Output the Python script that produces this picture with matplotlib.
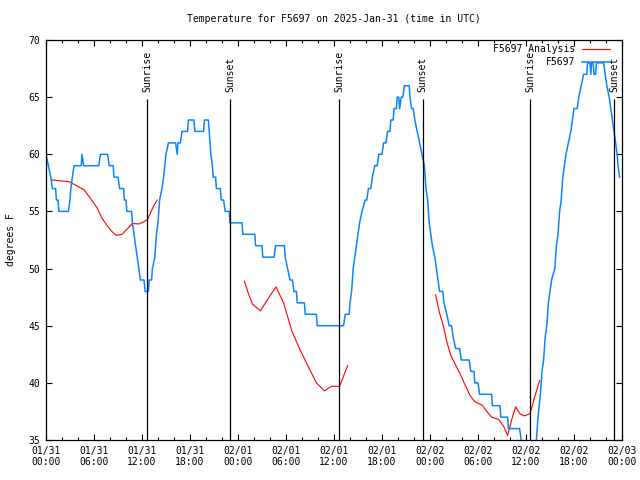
import matplotlib
matplotlib.use("Agg")
import matplotlib.pyplot as plt
import numpy as np

# hours since 2025-01-31 00:00 UTC
obs_hours = [0.0, 0.3, 0.6, 0.8, 1.2, 1.3, 1.5, 1.6, 2.8, 3.0, 3.1, 3.3, 3.5, 4.4, 4.5, 4.7,
             6.6, 6.8, 7.7, 7.9, 8.4, 8.5, 9.0, 9.2, 9.7, 9.8, 10.0, 10.1, 10.7, 10.8, 11.0,
             11.2, 11.4, 11.6, 11.8, 12.25, 12.4, 12.8, 12.9, 13.2, 13.3, 13.6, 13.8, 14.0,
             14.2, 14.5, 14.7, 14.85, 15.0, 15.3, 16.2, 16.4, 16.5, 16.8, 17.0, 17.7, 17.8,
             18.5, 18.6, 19.7, 19.8, 20.3, 20.4, 20.5, 20.6, 20.8, 20.9, 21.2, 21.3, 21.8,
             21.9, 22.2, 22.4, 22.9, 23.0, 24.5, 24.6, 26.1, 26.2, 27.0, 27.1, 28.5, 28.7,
             29.8, 29.9, 30.2, 30.5, 30.8, 31.0, 31.3, 31.4, 32.3, 32.4, 33.8, 33.9, 37.2,
             37.4, 37.9, 38.0, 38.2, 38.4, 38.6, 38.8, 39.0, 39.2, 39.5, 39.9, 40.1, 40.3,
             40.6, 40.8, 41.1, 41.4, 41.6, 42.0, 42.2, 42.5, 42.7, 43.0, 43.1, 43.4, 43.5,
             43.8, 43.9, 44.1, 44.2, 44.4, 44.6, 44.8, 45.4, 45.5, 45.7, 45.9, 46.1, 46.4,
             46.7, 47.0, 47.3, 47.5, 47.7, 47.9, 48.1, 48.3, 48.6, 48.8, 49.0, 49.2, 49.6,
             49.75, 50.1, 50.4, 50.7, 50.9, 51.2, 51.7, 51.9, 52.9, 53.1, 53.5, 53.6, 54.0,
             54.2, 55.7, 55.8, 56.75, 56.85, 57.7, 57.8, 59.2, 59.4, 59.6, 60.5, 61.0, 61.3,
             61.5, 61.8, 62.0, 62.2, 62.4, 62.6, 62.8, 63.0, 63.2, 63.6, 63.8, 64.0, 64.2,
             64.4, 64.6, 64.8, 65.0, 65.3, 65.6, 65.8, 66.0, 66.4, 66.6, 66.9, 67.2, 67.6,
             67.7, 68.0, 68.1, 68.2, 68.4, 68.5, 68.7, 68.8, 69.7, 69.9, 70.1, 70.4, 70.6,
             70.8, 71.0, 71.2, 71.4, 71.5, 71.7]
obs_temps = [60, 59, 58, 57, 57, 56, 56, 55, 55, 56, 57, 58, 59, 59, 60, 59,
             59, 60, 60, 59, 59, 58, 58, 57, 57, 56, 56, 55, 55, 54, 53,
             52, 51, 50, 49, 49, 48, 48, 49, 49, 50, 51, 53, 54,
             56, 57, 58, 59, 60, 61, 61, 60, 61, 61, 62, 62, 63,
             63, 62, 62, 63, 63, 62, 61, 60, 59, 58, 58, 57, 57,
             56, 56, 55, 55, 54, 54, 53, 53, 52, 52, 51, 51, 52,
             52, 51, 50, 49, 49, 48, 48, 47, 47, 46, 46, 45, 45,
             46, 46, 47, 48, 50, 51, 52, 53, 54, 55, 56, 56, 57,
             57, 58, 59, 59, 60, 60, 61, 61, 62, 62, 63, 63, 64,
             64, 65, 65, 64, 65, 65, 66, 66, 65, 64, 64, 63, 62,
             61, 60, 59, 57, 56, 54, 53, 52, 51, 50, 49, 48, 48,
             47, 46, 45, 45, 44, 43, 43, 42, 42, 41, 41, 40, 40,
             39, 39, 38, 38, 37, 37, 36, 36, 35, 34, 33, 34, 35,
             37, 39, 41, 42, 44, 45, 47, 48, 49, 50, 52, 53, 55,
             56, 58, 59, 60, 61, 62, 63, 64, 64, 65, 66, 67, 67,
             68, 68, 67, 68, 68, 67, 67, 68, 68, 67, 66, 65, 64,
             63, 62, 61, 60, 59, 58]

# analysis series (nan = gap)
ana_hours = [0.8, 1.5, 2.9, 3.7, 4.75, 5.6, 6.4, 7.0, 7.7, 8.3, 8.8, 9.5, 10.2, 10.8, 11.6,
             12.25, 12.7, 13.4, 13.9, 19.0,
             24.8, 25.3, 25.8, 26.3, 26.8, 27.8, 28.75, 29.7, 30.7, 31.75, 32.8, 33.8, 34.8,
             35.7, 36.7, 37.7, 43.0,
             48.7, 49.2, 49.7, 50.1, 50.6, 51.1, 51.75, 52.4, 53.0, 53.6, 54.5, 55.1, 55.7,
             56.6, 57.2, 57.7, 58.2, 58.7, 59.25, 59.8, 60.5, 61.1, 61.7]
ana_temps = [57.75, 57.7, 57.6, 57.3, 56.9, 56.1, 55.3, 54.4, 53.7, 53.2, 52.9, 53.0, 53.5,
             53.95, 53.9, 54.1, 54.3, 55.4, 56.0, np.nan,
             48.9, 47.8, 46.9, 46.6, 46.3, 47.4, 48.4, 47.0, 44.6, 42.9, 41.4, 40.0, 39.3,
             39.7, 39.7, 41.5, np.nan,
             47.7, 46.1, 44.9, 43.6, 42.4, 41.7, 40.8, 39.8, 38.9, 38.35, 38.06, 37.5, 37.0,
             36.8, 36.2, 35.4, 36.75, 37.9, 37.3, 37.1, 37.3, 38.8, 40.2]

sunrise_hours = [12.66, 36.66, 60.54]
sunset_hours = [23.04, 47.09, 71.04]

tick_hours = [0, 6, 12, 18, 24, 30, 36, 42, 48, 54, 60, 66, 72]
tick_labels = ["01/31\n00:00", "01/31\n06:00", "01/31\n12:00", "01/31\n18:00",
               "02/01\n00:00", "02/01\n06:00", "02/01\n12:00", "02/01\n18:00",
               "02/02\n00:00", "02/02\n06:00", "02/02\n12:00", "02/02\n18:00",
               "02/03\n00:00"]

plt.rcParams['font.family'] = ['DejaVu Sans Mono']
fs = 7

fig = plt.figure(figsize=(6.4, 4.8), dpi=100)
ax = fig.add_axes([46/640, 40/480, 576/640, 400/480])

ax.plot(ana_hours, ana_temps, color='#ff0000', lw=0.8, label='F5697 Analysis')
ax.plot(obs_hours, obs_temps, color='#0a84ff', lw=1.1, label='F5697')

# sunrise / sunset markers
for h in sunrise_hours:
    ax.vlines(h, 35, 64.8, color='black', lw=0.9)
    ax.text(h, 65.45, 'Sunrise', rotation=90, ha='center', va='bottom', fontsize=fs)
for h in sunset_hours:
    ax.vlines(h, 35, 64.8, color='black', lw=0.9)
    ax.text(h, 65.45, 'Sunset', rotation=90, ha='center', va='bottom', fontsize=fs)

ax.set_xlim(0, 72)
ax.set_ylim(35, 70)
ax.set_xticks(tick_hours)
ax.set_xticklabels(tick_labels)
ax.set_xticks(np.arange(0, 73, 2), minor=True)
ax.set_yticks(np.arange(35, 71, 5))
ax.tick_params(axis='both', which='both', direction='in', top=True, right=True,
               labelsize=fs, width=0.8)
ax.tick_params(axis='both', which='major', length=4)
ax.tick_params(axis='both', which='minor', length=2.5)
ax.tick_params(axis='x', pad=4)
ax.tick_params(axis='y', pad=4)
for s in ax.spines.values():
    s.set_linewidth(0.9)

ax.set_ylabel('degrees F', fontsize=fs)
ax.yaxis.set_label_coords(-0.052, 0.5)
fig.text(334/640, 1 - 19/480, 'Temperature for F5697 on 2025-Jan-31 (time in UTC)',
         ha='center', va='center', fontsize=fs)

ax.legend(loc='upper right', bbox_to_anchor=(0.98, 0.99), frameon=False, fontsize=fs,
          markerfirst=False, handlelength=2.9, handletextpad=0.7, labelspacing=0.35,
          borderpad=0, borderaxespad=0)

plt.savefig('out.png', dpi=100)
